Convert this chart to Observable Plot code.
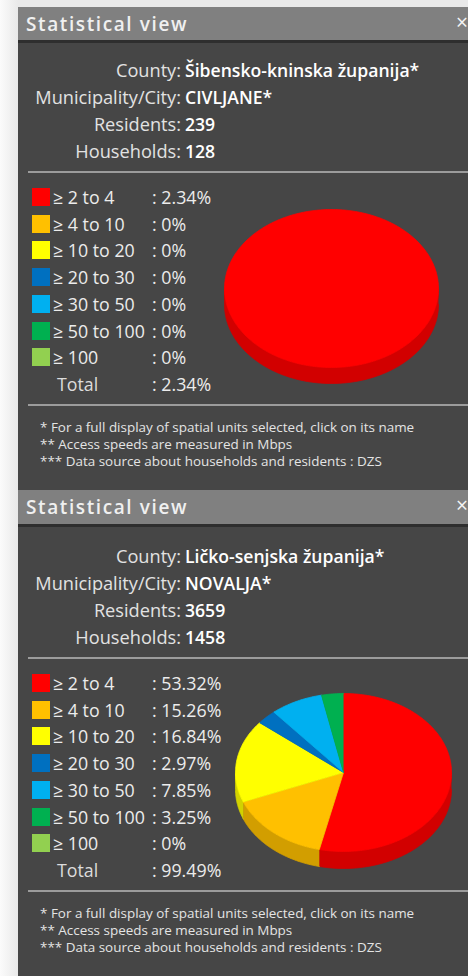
<!DOCTYPE html>
<html>
<head>
<meta charset="utf-8">
<script src="https://cdn.jsdelivr.net/npm/d3@7"></script>
<script src="https://cdn.jsdelivr.net/npm/@observablehq/plot@0.6"></script>
<style>
  html, body { margin: 0; padding: 0; }
  body {
    width: 468px; height: 976px; overflow: hidden; position: relative;
    background: linear-gradient(to right, #fbfbfb 0px, #e9e9e9 18px);
    font-family: "Open Sans", "Noto Sans", sans-serif;
  }
  .panel { position: absolute; left: 18px; width: 450px; background: #464646; }
  .titlebar { position: absolute; left: 0; width: 450px; background: #808080; border-bottom: 3px solid #2e2e2e; }
  .title { position: absolute; left: 8px; color: #f0f0f0; font-size: 19px; font-weight: 600; letter-spacing: 1.6px; line-height: 24px; }
  .close { position: absolute; right: 0px; color: #f4f4f4; font-size: 21px; line-height: 24px; }
  .t { position: absolute; white-space: nowrap; line-height: 22px; height: 22px; }
  .lab { color: #e2e2e2; font-size: 18.2px; text-align: right; }
  .val { color: #ffffff; font-size: 17.6px; font-weight: 600; }
  .leg { color: #ececec; font-size: 17.8px; }
  .sq { position: absolute; width: 18px; height: 18px; }
  .sep { position: absolute; left: 10px; width: 440px; height: 2px; background: #9c9c9c; }
  .foot { color: #e4e4e4; font-size: 13.45px; line-height: 16px; height: 16px; }
  .pie { position: absolute; }
</style>
</head>
<body>
<script>
// ---------------- data ----------------
const speedBands = ["≥ 2 to 4", "≥ 4 to 10", "≥ 10 to 20", "≥ 20 to 30", "≥ 30 to 50", "≥ 50 to 100", "≥ 100"];
const bandColors = ["#ff0000", "#ffc000", "#ffff00", "#0070c0", "#00b0f0", "#00b050", "#92d050"];
const infoLabels = ["County:", "Municipality/City:", "Residents:", "Households:"];
const civljaneInfo = ["Šibensko-kninska županija*", "CIVLJANE*", "239", "128"];
const civljaneShares = [2.34, 0, 0, 0, 0, 0, 0];
const novaljaInfo = ["Ličko-senjska županija*", "NOVALJA*", "3659", "1458"];
const novaljaShares = [53.32, 15.26, 16.84, 2.97, 7.85, 3.25, 0];
const panelTitle = "Statistical view";
const totalLabel = "Total";
const footnotes = [
  "* For a full display of spatial units selected, click on its name",
  "** Access speeds are measured in Mbps",
  "*** Data source about households and residents : DZS"
];

const fmt = v => (v === 0 ? "0" : d3.format(".2f")(v)) + "%";

function el(tag, cls, style, text, parent) {
  const e = document.createElement(tag);
  if (cls) e.className = cls;
  Object.assign(e.style, style);
  if (text != null) e.textContent = text;
  parent.appendChild(e);
  return e;
}

// pie polygons computed from the data (unit ellipse coordinates)
function piePoints(values, colors, depthU) {
  const arcs = d3.pie().sort(null).value(d => d)(values);
  const sides = [], tops = [];
  const step = Math.PI / 180;
  arcs.forEach((a, i) => {
    if (a.endAngle - a.startAngle <= 0) return;
    const col = colors[i];
    const dark = d3.color(col).darker(0.55).formatHex();
    const s0 = Math.max(a.startAngle, Math.PI / 2), s1 = Math.min(a.endAngle, 3 * Math.PI / 2);
    if (s1 > s0) {
      const angs = d3.range(s0, s1, step).concat([s1]);
      const up = angs.map(t => ({id: "s" + i, c: dark, x: Math.sin(t), y: Math.cos(t)}));
      const down = angs.slice().reverse().map(t => ({id: "s" + i, c: dark, x: Math.sin(t), y: Math.cos(t) - depthU}));
      sides.push(...up, ...down);
    }
    const angs = d3.range(a.startAngle, a.endAngle, step).concat([a.endAngle]);
    tops.push({id: "t" + i, c: col, x: 0, y: 0});
    angs.forEach(t => tops.push({id: "t" + i, c: col, x: Math.sin(t), y: Math.cos(t)}));
  });
  return sides.concat(tops);
}

function drawPie(values, cx, cy, rx, ry, depth, parent, panelTop) {
  const left = 200, w = 268, h = 210, top = cy - 100;
  const pts = piePoints(values, bandColors, depth / ry);
  const chart = Plot.plot({
    width: w, height: h, margin: 0,
    style: {background: "transparent", overflow: "visible"},
    x: {domain: [-1, 1], range: [cx - rx - left, cx + rx - left], axis: null},
    y: {domain: [-1, 1], range: [100 + ry, 100 - ry], axis: null},
    color: {type: "identity"},
    marks: [
      Plot.line(pts, {x: "x", y: "y", z: "id", fill: "c", stroke: "c", strokeWidth: 0.8, curve: "linear"})
    ]
  });
  chart.classList.add("pie");
  chart.style.left = (left - 18) + "px";
  chart.style.top = (top - panelTop) + "px";
  parent.appendChild(chart);
}

function buildPanel(top, height, barH, info, shares, bodyShift, pie) {
  const p = el("div", "panel", {top: top + "px", height: height + "px"}, null, document.body);
  const tb = el("div", "titlebar", {top: "0px", height: barH + "px"}, null, p);
  el("div", "title", {top: (barH / 2 - 12) + "px"}, panelTitle, tb);
  el("div", "close", {top: (barH / 2 - 14) + "px"}, "×", tb);
  const Y = y => (y + bodyShift - top - 11) + "px";
  const infoY = [70, 97, 124, 151];
  infoLabels.forEach((lab, i) => {
    el("div", "t lab", {left: "0px", width: "163px", top: Y(infoY[i])}, lab, p);
    el("div", "t val", {left: "167px", top: Y(infoY[i])}, info[i], p);
  });
  el("div", "sep", {top: (172 + bodyShift - top - 1) + "px"}, null, p);
  const rowY = d3.range(8).map(i => 197 + i * 26.7);
  speedBands.forEach((b, i) => {
    el("div", "sq", {left: "14px", top: (rowY[i] + bodyShift - top - 9) + "px", background: bandColors[i]}, null, p);
    el("div", "t leg", {left: "35px", top: Y(rowY[i])}, b, p);
    el("div", "t leg", {left: "134px", top: Y(rowY[i])}, ": " + fmt(shares[i]), p);
  });
  el("div", "t leg", {left: "39px", top: Y(rowY[7]), color: "#dcdcdc"}, totalLabel, p);
  el("div", "t leg", {left: "134px", top: Y(rowY[7])}, ": " + fmt(d3.sum(shares)), p);
  el("div", "sep", {top: (405 + bodyShift - top - 1) + "px"}, null, p);
  footnotes.forEach((f, i) => {
    el("div", "t foot", {left: "22px", top: (427 + i * 17 + bodyShift - top - 8) + "px"}, f, p);
  });
  drawPie(shares, pie.cx, pie.cy, pie.rx, pie.ry, pie.depth, p, top);
}

buildPanel(7, 483, 33, civljaneInfo, civljaneShares, 0, {cx: 331, cy: 288, rx: 107, ry: 79, depth: 16});
buildPanel(490, 486, 34, novaljaInfo, novaljaShares, 486, {cx: 343, cy: 772, rx: 108, ry: 79, depth: 17});
</script>
</body>
</html>
